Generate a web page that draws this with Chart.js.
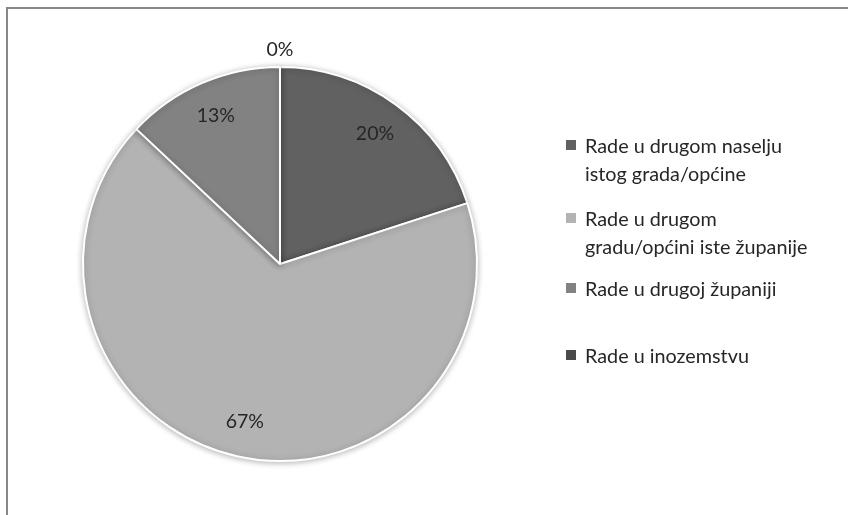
<!DOCTYPE html>
<html>
<head>
<meta charset="utf-8">
<script src="https://cdn.jsdelivr.net/npm/chart.js@4.4.0/dist/chart.umd.min.js"></script>
<style>
  html, body { margin: 0; padding: 0; background: #fff; }
  #wrap { position: relative; width: 848px; height: 515px; overflow: hidden; }
  #frame { position: absolute; left: 6px; top: 7px; width: 860px; height: 520px;
           border-left: 2px solid #878787; border-top: 2px solid #878787; box-sizing: border-box; }
  canvas { position: absolute; left: 0; top: 0; }
  #legend { position: absolute; left: 566px; top: 0; font-family: Lato, "Open Sans", sans-serif;
            font-size: 19.8px; color: #262626; }
  .item { position: absolute; left: 0; white-space: nowrap; line-height: 28px; }
  .sw { position: absolute; left: 0; top: 9px; width: 10px; height: 10px; }
  .txt { position: absolute; left: 19px; top: 0; }
</style>
</head>
<body>
<div id="wrap">
  <div id="frame"></div>
  <canvas id="c" width="848" height="515"></canvas>
  <div id="legend"></div>
</div>
<script>
const categories = [
  ["Rade u drugom naselju", "istog grada/općine"],
  ["Rade u drugom", "gradu/općini iste županije"],
  ["Rade u drugoj županiji"],
  ["Rade u inozemstvu"]
];
const values = [20, 67, 13, 0];
const sliceColors = ["#616161", "#b3b3b3", "#828282", "#4a4a4a"];
const legendTops = [131, 204, 274, 341];

const labelPlugin = {
  id: "pctLabels",
  afterDatasetsDraw(chart) {
    const ctx = chart.ctx;
    const meta = chart.getDatasetMeta(0);
    ctx.save();
    ctx.font = '19.5px Lato, "Open Sans", sans-serif';
    ctx.fillStyle = "#262626";
    ctx.textAlign = "center";
    ctx.textBaseline = "middle";
    meta.data.forEach((arc, i) => {
      const p = arc.getProps(["x", "y", "startAngle", "endAngle", "outerRadius"], true);
      const mid = (p.startAngle + p.endAngle) / 2;
      const r = values[i] === 0 ? p.outerRadius + 17 : p.outerRadius * 0.82;
      ctx.fillText(values[i] + "%", p.x + Math.cos(mid) * r, p.y + Math.sin(mid) * r);
    });
    ctx.restore();
  }
};

const shadowPlugin = {
  id: "pieShadow",
  beforeDatasetsDraw(chart) {
    const ctx = chart.ctx;
    ctx.save();
    ctx.shadowColor = "rgba(0,0,0,0.28)";
    ctx.shadowBlur = 6;
    ctx.shadowOffsetX = 0;
    ctx.shadowOffsetY = 1;
  },
  afterDatasetsDraw(chart) {
    chart.ctx.restore();
  }
};

new Chart(document.getElementById("c"), {
  type: "pie",
  data: {
    labels: categories.map(c => c.join(" ")),
    datasets: [{
      data: values,
      backgroundColor: sliceColors,
      borderColor: "#ffffff",
      borderWidth: 2,
      hoverOffset: 0
    }]
  },
  options: {
    responsive: false,
    animation: false,
    events: [],
    layout: { padding: { left: 82, top: 66, right: 370, bottom: 53 } },
    plugins: { legend: { display: false }, tooltip: { enabled: false } }
  },
  plugins: [shadowPlugin, labelPlugin]
});

const leg = document.getElementById("legend");
categories.forEach((lines, i) => {
  const it = document.createElement("div");
  it.className = "item";
  it.style.top = legendTops[i] + "px";
  const sw = document.createElement("div");
  sw.className = "sw";
  sw.style.background = sliceColors[i];
  const tx = document.createElement("div");
  tx.className = "txt";
  tx.innerHTML = lines.join("<br>");
  it.appendChild(sw);
  it.appendChild(tx);
  leg.appendChild(it);
});
</script>
</body>
</html>
